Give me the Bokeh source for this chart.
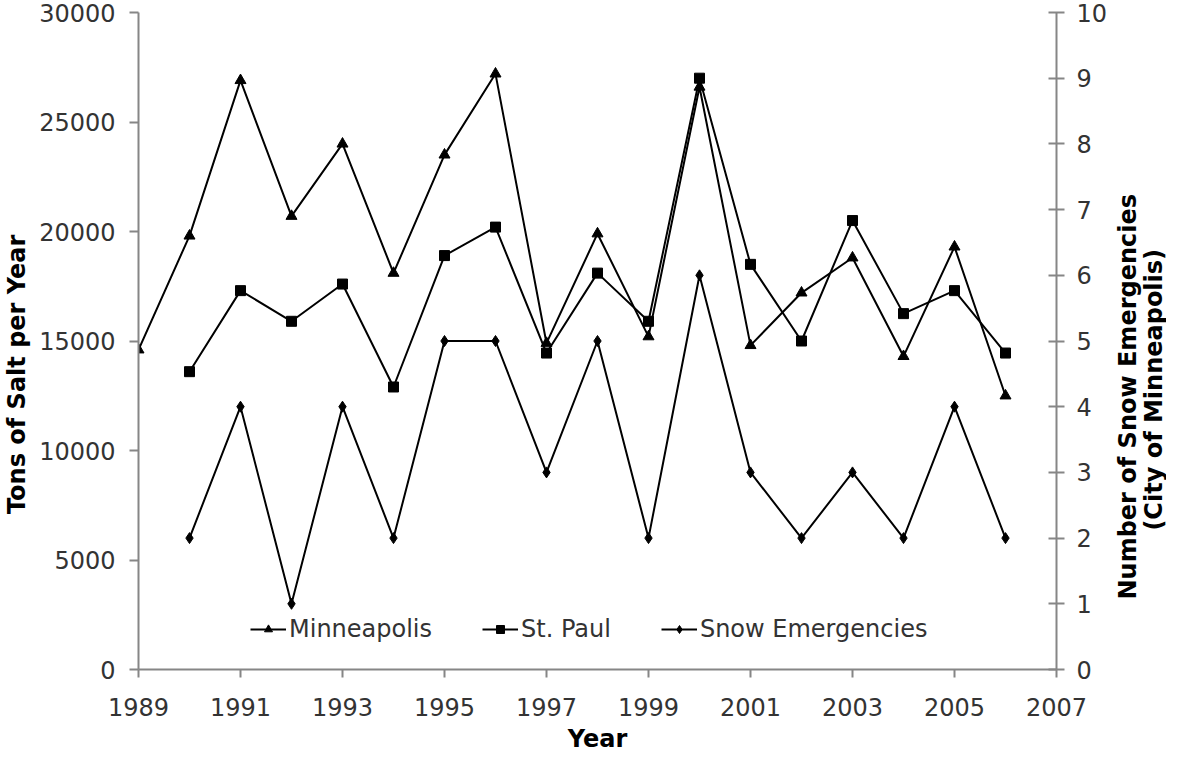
import math
from bokeh.plotting import figure
from bokeh.layouts import row
from bokeh.models import Range1d, LinearAxis, FixedTicker, Legend, LegendItem, Label
from bokeh.embed import file_html
from bokeh.resources import INLINE

years = list(range(1989, 2007))
minneapolis = [14600, 19800, 26900, 20700, 24000, 18100, 23500, 27200, 14900,
               19900, 15200, 26600, 14800, 17200, 18800, 14300, 19300, 12500]
sp_years = list(range(1990, 2007))
st_paul = [13600, 17300, 15900, 17600, 12900, 18900, 20200, 14450, 18100,
           15900, 27000, 18500, 15000, 20500, 16250, 17300, 14450]
se_years = list(range(1990, 2007))
snow_emerg = [2, 4, 1, 4, 2, 5, 5, 3, 5, 2, 6, 3, 2, 3, 2, 4, 2]

x_ticks = list(range(1989, 2008, 2))
left_ticks = list(range(0, 30001, 5000))
right_ticks = list(range(0, 11))

FONT = "DejaVu Sans"
AX = "#868686"
TXT = "#333333"
FS = "24px"
TFS = "24px"
NB = "\u00a0"

W_MAIN = 1110
W_TITLE = 1166 - W_MAIN
H = 755

p = figure(width=W_MAIN, height=H, output_backend="svg", toolbar_location=None,
           x_range=Range1d(1989, 2007), y_range=Range1d(0, 30000),
           min_border_left=135, min_border_right=51, min_border_top=12,
           min_border_bottom=83)
p.extra_y_ranges = {"se": Range1d(0, 10)}
p.grid.visible = False
p.outline_line_color = None


def style(ax, t_in, t_out, standoff, label_standoff):
    ax.axis_line_color = AX
    ax.axis_line_width = 2
    ax.major_tick_line_color = AX
    ax.major_tick_line_width = 2
    ax.major_tick_in = t_in
    ax.major_tick_out = t_out
    ax.minor_tick_line_color = None
    ax.major_label_text_font = FONT
    ax.major_label_text_font_size = FS
    ax.major_label_text_color = TXT
    ax.major_label_standoff = standoff
    ax.axis_label_text_font = FONT
    ax.axis_label_text_font_size = TFS
    ax.axis_label_text_font_style = "bold"
    ax.axis_label_text_color = "black"
    ax.axis_label_standoff = label_standoff


style(p.xaxis[0], 0, 8, 20, 6)
p.xaxis.ticker = FixedTicker(ticks=x_ticks)
p.xaxis.axis_label = "Year"

style(p.yaxis[0], 0, 9, 14, 5)
p.yaxis.ticker = FixedTicker(ticks=left_ticks)
p.yaxis.axis_label = "Tons of Salt per Year" + NB * 8

ra = LinearAxis(y_range_name="se", ticker=FixedTicker(ticks=right_ticks))
style(ra, 8, 8, 12, 0)
p.add_layout(ra, "right")

l1 = p.line(years, minneapolis, line_color="black", line_width=2)
m1 = p.scatter(years, minneapolis, marker="triangle", size=11, color="black")
l2 = p.line(sp_years, st_paul, line_color="black", line_width=2)
m2 = p.scatter(sp_years, st_paul, marker="square", size=10, color="black")
l3 = p.line(se_years, snow_emerg, line_color="black", line_width=2, y_range_name="se")
m3 = p.scatter(se_years, snow_emerg, marker="diamond", size=11, color="black", y_range_name="se")

legend = Legend(items=[LegendItem(label="Minneapolis", renderers=[l1, m1]),
                       LegendItem(label="St. Paul", renderers=[l2, m2]),
                       LegendItem(label="Snow Emergencies", renderers=[l3, m3])],
                orientation="horizontal", location=(112, 26),
                background_fill_alpha=0, border_line_color=None,
                label_text_font=FONT, label_text_font_size=FS,
                label_text_color=TXT, glyph_width=36, label_standoff=3,
                spacing=50, padding=0, margin=0)
p.add_layout(legend, "center")

# right-hand axis title (reads bottom to top, as in the reference);
# its frame is aligned with the main frame, so it shares the left y range
pt = figure(width=W_TITLE, height=H, output_backend="svg", toolbar_location=None,
            x_range=Range1d(0, W_TITLE), y_range=p.y_range,
            x_axis_type=None, y_axis_type=None,
            min_border_left=0, min_border_right=0, min_border_top=12,
            min_border_bottom=83)
pt.outline_line_color = None
title_kw = dict(text_font=FONT, text_font_size=TFS, text_font_style="bold",
                text_color="black", text_align="center", text_baseline="middle",
                angle=math.pi / 2)
pt.add_layout(Label(x=17, y=12455, text="Number of Snow Emergencies", **title_kw))
pt.add_layout(Label(x=43, y=12773, text="(City of Minneapolis)", **title_kw))

open("out.html", "w").write(file_html(row(p, pt), INLINE))
